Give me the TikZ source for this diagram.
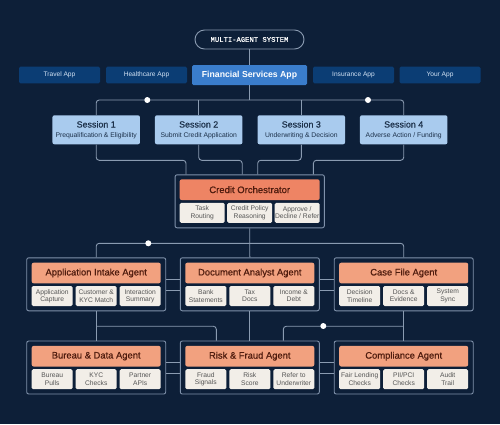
\documentclass[tikz,border=0pt]{standalone}
\usepackage{fontspec}
\setmainfont{Liberation Sans}
\setmonofont{Liberation Mono}
\newfontfamily\mediumfont[FakeBold=0.6]{Liberation Sans}
\newfontfamily\mediummono[FakeBold=0.5]{Liberation Mono}
\usetikzlibrary{calc}

\definecolor{bgnavy}{HTML}{0D1F38}
\definecolor{linegray}{HTML}{8A9BB1}
\definecolor{framegray}{HTML}{7F91AA}
\definecolor{appblue}{HTML}{0B3D74}
\definecolor{apptext}{HTML}{D2E2F4}
\definecolor{finblue}{HTML}{3A7DCC}
\definecolor{sessblue}{HTML}{A9CBEE}
\definecolor{sessink}{HTML}{1D314A}
\definecolor{orchred}{HTML}{EE8464}
\definecolor{agentsalmon}{HTML}{F2A17F}
\definecolor{titleink}{HTML}{4F1C0E}
\definecolor{subcream}{HTML}{F2EEE8}
\definecolor{subink}{HTML}{555555}

\begin{document}
\begin{tikzpicture}[x=1pt,y=1pt,yscale=-1,
  link/.style={draw=linegray, line width=0.9pt, rounded corners=3pt},
  pill/.style={draw=linegray, line width=0.9pt, rounded corners=9.5pt, minimum width=109pt, minimum height=19pt, inner sep=0pt, text=white, font=\mediummono\fontsize{7.2}{8}\selectfont},
  appbox/.style={fill=appblue, text=apptext, minimum width=81pt, minimum height=16.7pt, inner sep=0pt, rounded corners=1.5pt, font=\fontsize{6.6}{8}\selectfont},
  finbox/.style={fill=finblue, text=white, minimum width=115pt, minimum height=20pt, inner sep=0pt, rounded corners=1.5pt, font=\bfseries\fontsize{8.7}{10}\selectfont},
  session/.style={fill=sessblue, text=sessink, minimum width=87.5pt, minimum height=29pt, inner sep=0pt, rounded corners=2pt, align=center, font=\mediumfont\fontsize{8.9}{9.6}\selectfont},
  frame/.style={draw=framegray, fill=bgnavy, line width=0.9pt, rounded corners=2pt, minimum width=139pt, minimum height=53pt, inner sep=0pt},
  orchtitle/.style={fill=orchred, text=titleink, minimum width=140pt, minimum height=20.7pt, inner sep=0pt, rounded corners=2pt, font=\mediumfont\fontsize{9.5}{11}\selectfont},
  agenttitle/.style={fill=agentsalmon, text=titleink, minimum width=129pt, minimum height=20.6pt, inner sep=0pt, rounded corners=2pt, font=\mediumfont\fontsize{9.4}{11}\selectfont},
  sub/.style={fill=subcream, text=subink, minimum width=41pt, minimum height=20pt, inner sep=0pt, rounded corners=1.5pt, align=center, font=\fontsize{6.7}{7.4}\selectfont},
  orchsub/.style={sub, minimum width=45pt},
  dot/.style={circle, fill=white, minimum size=6pt, inner sep=0pt}
]
% background
\fill[bgnavy] (0,0) rectangle (500,424);
\useasboundingbox (0,0) rectangle (500,424);

% Header
\node[pill] (mas) at (249.5,39.5) {MULTI-AGENT SYSTEM};

% Apps
\node[appbox] (travel) at (59.5,75) {Travel App};
\node[appbox] (health) at (146.5,75) {Healthcare App};
\node[finbox] (fin) at (249.5,75) {Financial Services App};
\node[appbox] (insur) at (353.5,75) {Insurance App};
\node[appbox] (yours) at (440,75) {Your App};

% Sessions
\node[session] (s1) at (96.2,129.8) {Session 1\\{\normalfont\fontsize{6.8}{8}\selectfont Prequalification \& Eligibility}};
\node[session] (s2) at (198.7,129.8) {Session 2\\{\normalfont\fontsize{6.8}{8}\selectfont Submit Credit Application}};
\node[session] (s3) at (301.3,129.8) {Session 3\\{\normalfont\fontsize{6.8}{8}\selectfont Underwriting \& Decision}};
\node[session] (s4) at (403.7,129.8) {Session 4\\{\normalfont\fontsize{6.8}{8}\selectfont Adverse Action / Funding}};

% Orchestrator
\node[frame, minimum width=149.3pt] (orch) at (249.7,201.3) {};
\node[orchtitle] (orchT) at (249.7,189.7) {Credit Orchestrator};
\node[orchsub] (or1) at (202.2,212.8) {Task\\Routing};
\node[orchsub] (or2) at (249.7,212.8) {Credit Policy\\Reasoning};
\node[orchsub] (or3) at (297.2,212.8) {Approve /\\Decline / Refer};

% Agents, first row
\node[frame] (ai) at (96.2,284.3) {};
\node[agenttitle] (aiT) at (96.2,273) {Application Intake Agent};
\node[sub] (ai1) at (52.2,296) {Application\\Capture};
\node[sub] (ai2) at (96.2,296) {Customer \&\\KYC Match};
\node[sub] (ai3) at (140.2,296) {Interaction\\Summary};

\node[frame] (da) at (249.8,284.3) {};
\node[agenttitle] (daT) at (249.8,273) {Document Analyst Agent};
\node[sub] (da1) at (205.8,296) {Bank\\Statements};
\node[sub] (da2) at (249.8,296) {Tax\\Docs};
\node[sub] (da3) at (293.8,296) {Income \&\\Debt};

\node[frame] (cf) at (403.7,284.3) {};
\node[agenttitle] (cfT) at (403.7,273) {Case File Agent};
\node[sub] (cf1) at (359.7,296) {Decision\\Timeline};
\node[sub] (cf2) at (403.7,296) {Docs \&\\Evidence};
\node[sub] (cf3) at (447.7,296) {System\\Sync};

% Agents, second row
\node[frame] (bd) at (96.2,367.5) {};
\node[agenttitle] (bdT) at (96.2,356.2) {Bureau \& Data Agent};
\node[sub] (bd1) at (52.2,379.2) {Bureau\\Pulls};
\node[sub] (bd2) at (96.2,379.2) {KYC\\Checks};
\node[sub] (bd3) at (140.2,379.2) {Partner\\APIs};

\node[frame] (rf) at (249.8,367.5) {};
\node[agenttitle] (rfT) at (249.8,356.2) {Risk \& Fraud Agent};
\node[sub] (rf1) at (205.8,379.2) {Fraud\\Signals};
\node[sub] (rf2) at (249.8,379.2) {Risk\\Score};
\node[sub] (rf3) at (293.8,379.2) {Refer to\\Underwriter};

\node[frame] (co) at (403.7,367.5) {};
\node[agenttitle] (coT) at (403.7,356.2) {Compliance Agent};
\node[sub] (co1) at (359.7,379.2) {Fair Lending\\Checks};
\node[sub] (co2) at (403.7,379.2) {PII/PCI\\Checks};
\node[sub] (co3) at (447.7,379.2) {Audit\\Trail};

% Header to sessions
\coordinate (topbus) at (249.5,100);
\draw[link] (mas.south) -- (fin.north);
\draw[link] (fin.south) -- (topbus);
\draw[link] (s1.north) |- (topbus) -| (s4.north);
\draw[link] (s2.north) -- (s2.north |- topbus);
\draw[link] (s3.north) -- (s3.north |- topbus);

% Sessions to orchestrator
\coordinate (o1) at ($(orch.north)+(-63.7,0)$);
\coordinate (o2) at ($(orch.north)+(-7.5,0)$);
\coordinate (o3) at ($(orch.north)+(8,0)$);
\coordinate (o4) at ($(orch.north)+(63.7,0)$);
\draw[link] (s1.south) -- ++(0,15.8) -| (o1);
\draw[link] (s2.south) -- ++(0,15.8) -| (o2);
\draw[link] (s3.south) -- ++(0,15.8) -| (o3);
\draw[link] (s4.south) -- ++(0,15.8) -| (o4);

% Orchestrator to agents
\coordinate (midbus) at (249.8,243.3);
\draw[link] (orch.south) -- (da.north);
\draw[link] (ai.north) |- (midbus) -| (cf.north);

% First row to second row
\draw[link] (ai.south) -- (bd.north);
\draw[link] (da.south) -- (rf.north);
\draw[link] (cf.south) -- (co.north);
\draw[link] ($(ai.south)+(0,15)$) -| ($(rf.north)+(-33.5,0)$);
\draw[link] ($(cf.south)+(0,15)$) -| ($(rf.north)+(33.5,0)$);

% Side links between frames
\draw[link] ($(ai.east)+(0,-4.6)$) -- ($(da.west)+(0,-4.6)$);
\draw[link] ($(ai.east)+(0,5.7)$) -- ($(da.west)+(0,5.7)$);
\draw[link] ($(da.east)+(0,-4.6)$) -- ($(cf.west)+(0,-4.6)$);
\draw[link] ($(da.east)+(0,5.7)$) -- ($(cf.west)+(0,5.7)$);
\draw[link] ($(bd.east)+(0,-4.6)$) -- ($(rf.west)+(0,-4.6)$);
\draw[link] ($(bd.east)+(0,5.7)$) -- ($(rf.west)+(0,5.7)$);
\draw[link] ($(rf.east)+(0,-4.6)$) -- ($(co.west)+(0,-4.6)$);
\draw[link] ($(rf.east)+(0,5.7)$) -- ($(co.west)+(0,5.7)$);

% Junction dots
\node[dot] (dot1) at (147.3,100) {};
\node[dot] (dot2) at (368,100) {};
\node[dot] (dot3) at (148.3,243.3) {};
\node[dot] (dot4) at (323.3,326) {};

\end{tikzpicture}
\end{document}
